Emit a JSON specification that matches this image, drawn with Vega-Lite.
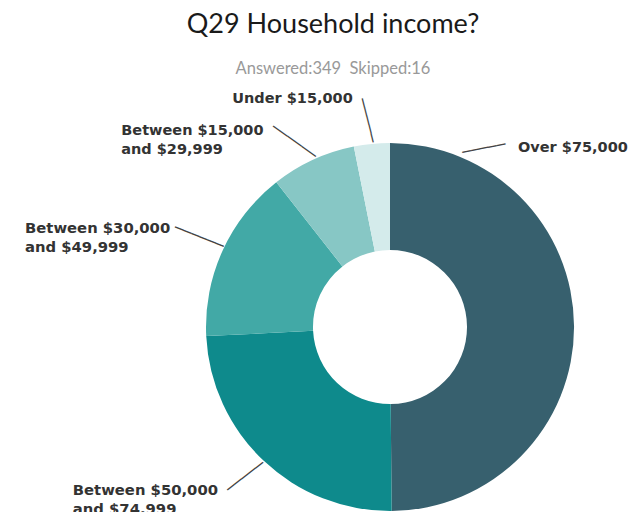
{
  "$schema": "https://vega.github.io/schema/vega-lite/v6.json",
  "width": 370,
  "height": 370,
  "autosize": {"type": "none"},
  "padding": {"left": 205, "top": 142, "right": 59, "bottom": 0},
  "background": "white",
  "title": {
    "text": "Q29 Household income?",
    "subtitle": "Answered:349\u00a0\u00a0Skipped:16",
    "frame": "group",
    "anchor": "middle",
    "dx": -57,
    "offset": -137,
    "font": "Lato",
    "fontSize": 27,
    "fontWeight": "normal",
    "color": "#1a1a1a",
    "subtitleFont": "Lato",
    "subtitleFontSize": 16.5,
    "subtitleColor": "#999999",
    "subtitlePadding": 22
  },
  "data": {
    "values": [
      {"cat": "Over $75,000", "count": 174, "rank": 1},
      {"cat": "Between $50,000\nand $74,999", "count": 85, "rank": 2},
      {"cat": "Between $30,000\nand $49,999", "count": 53, "rank": 3},
      {"cat": "Between $15,000\nand $29,999", "count": 26, "rank": 4},
      {"cat": "Under $15,000", "count": 11, "rank": 5}
    ]
  },
  "encoding": {
    "theta": {"field": "count", "type": "quantitative", "stack": true},
    "order": {"field": "rank", "type": "quantitative"}
  },
  "layer": [
    {
      "mark": {"type": "arc", "innerRadius": 77, "outerRadius": 184},
      "encoding": {
        "color": {
          "field": "cat",
          "type": "nominal",
          "sort": ["Over $75,000", "Between $50,000\nand $74,999", "Between $30,000\nand $49,999", "Between $15,000\nand $29,999", "Under $15,000"],
          "scale": {
            "domain": ["Over $75,000", "Between $50,000\nand $74,999", "Between $30,000\nand $49,999", "Between $15,000\nand $29,999", "Under $15,000"],
            "range": ["#37606e", "#0e8a8c", "#42a9a6", "#87c7c5", "#d4ebeb"]
          },
          "legend": null
        }
      }
    },
    {
      "mark": {"type": "text", "radius": 200, "align": "left", "baseline": "alphabetic", "dx": -72, "dy": -174, "font": "DejaVu Sans", "fontWeight": "bold", "fontSize": 14.5, "lineHeight": 19, "lineBreak": "\n", "fill": "#333333"},
      "encoding": {"text": {"condition": {"test": "datum.rank === 1", "field": "cat", "type": "nominal"}, "value": ""}}
    },
    {
      "mark": {"type": "text", "radius": 200, "align": "left", "baseline": "alphabetic", "dx": -180, "dy": 23, "font": "DejaVu Sans", "fontWeight": "bold", "fontSize": 14.8, "lineHeight": 19, "lineBreak": "\n", "fill": "#333333"},
      "encoding": {"text": {"condition": {"test": "datum.rank === 2", "field": "cat", "type": "nominal"}, "value": ""}}
    },
    {
      "mark": {"type": "text", "radius": 200, "align": "left", "baseline": "alphabetic", "dx": -183, "dy": -11, "font": "DejaVu Sans", "fontWeight": "bold", "fontSize": 14.8, "lineHeight": 19, "lineBreak": "\n", "fill": "#333333"},
      "encoding": {"text": {"condition": {"test": "datum.rank === 3", "field": "cat", "type": "nominal"}, "value": ""}}
    },
    {
      "mark": {"type": "text", "radius": 200, "align": "left", "baseline": "alphabetic", "dx": -185, "dy": -10, "font": "DejaVu Sans", "fontWeight": "bold", "fontSize": 14.5, "lineHeight": 19, "lineBreak": "\n", "fill": "#333333"},
      "encoding": {"text": {"condition": {"test": "datum.rank === 4", "field": "cat", "type": "nominal"}, "value": ""}}
    },
    {
      "mark": {"type": "text", "radius": 200, "align": "left", "baseline": "alphabetic", "dx": -138, "dy": -25, "font": "DejaVu Sans", "fontWeight": "bold", "fontSize": 14.5, "lineHeight": 19, "lineBreak": "\n", "fill": "#333333"},
      "encoding": {"text": {"condition": {"test": "datum.rank === 5", "field": "cat", "type": "nominal"}, "value": ""}}
    },
    {
      "mark": {"type": "text", "radius": 200, "align": "center", "baseline": "middle", "angle": -10.8, "dx": -70.9, "dy": -193.7, "font": "DejaVu Sans Mono", "fontSize": 14.5, "fill": "#444444"},
      "encoding": {"text": {"condition": {"test": "datum.rank === 1", "value": "─────"}, "value": ""}}
    },
    {
      "mark": {"type": "text", "radius": 200, "align": "center", "baseline": "middle", "angle": -37.9, "dx": -8.3, "dy": -1.7, "font": "DejaVu Sans Mono", "fontSize": 15, "fill": "#444444"},
      "encoding": {"text": {"condition": {"test": "datum.rank === 2", "value": "─────"}, "value": ""}}
    },
    {
      "mark": {"type": "text", "radius": 200, "align": "center", "baseline": "middle", "angle": 21.6, "dx": -10.8, "dy": -2.8, "font": "DejaVu Sans Mono", "fontSize": 14.5, "fill": "#444444"},
      "encoding": {"text": {"condition": {"test": "datum.rank === 3", "value": "──────"}, "value": ""}}
    },
    {
      "mark": {"type": "text", "radius": 200, "align": "center", "baseline": "middle", "angle": 35.5, "dx": -12.0, "dy": 4.5, "font": "DejaVu Sans Mono", "fontSize": 14.5, "fill": "#444444"},
      "encoding": {"text": {"condition": {"test": "datum.rank === 4", "value": "──────"}, "value": ""}}
    },
    {
      "mark": {"type": "text", "radius": 200, "align": "center", "baseline": "middle", "angle": 76, "dx": -7.9, "dy": 0.7, "font": "DejaVu Sans Mono", "fontSize": 15, "fill": "#444444"},
      "encoding": {"text": {"condition": {"test": "datum.rank === 5", "value": "─────"}, "value": ""}}
    }
  ],
  "config": {"view": {"stroke": null}}
}
